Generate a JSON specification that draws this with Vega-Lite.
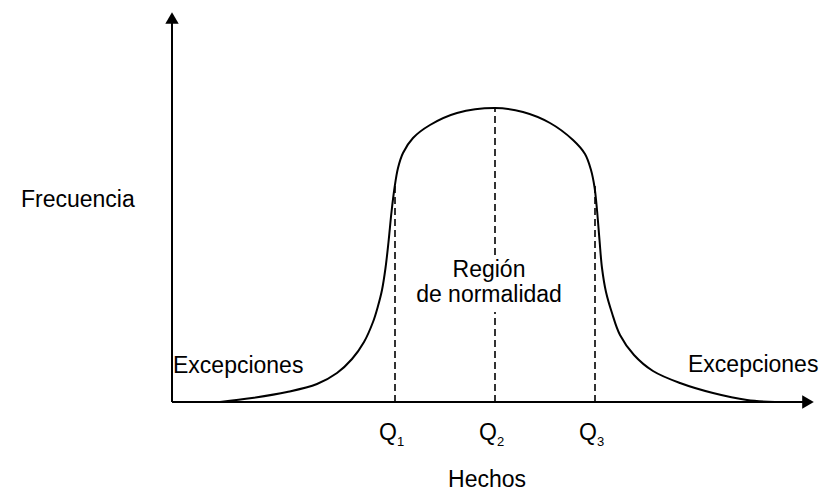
{
  "$schema": "https://vega.github.io/schema/vega-lite/v6.json",
  "width": 825,
  "height": 492,
  "padding": 0,
  "autosize": {"type": "none"},
  "background": "white",
  "config": {"view": {"stroke": null}, "text": {"font": "Liberation Sans", "color": "black"}},
  "datasets": {
    "curve": [
      {"hechos": 48, "frecuencia": 0},
      {"hechos": 80, "frecuencia": 4},
      {"hechos": 115, "frecuencia": 10},
      {"hechos": 145, "frecuencia": 18},
      {"hechos": 165, "frecuencia": 29},
      {"hechos": 180, "frecuencia": 43},
      {"hechos": 192, "frecuencia": 60},
      {"hechos": 201, "frecuencia": 80},
      {"hechos": 206, "frecuencia": 96},
      {"hechos": 210, "frecuencia": 112},
      {"hechos": 213.5, "frecuencia": 134},
      {"hechos": 216.5, "frecuencia": 160},
      {"hechos": 219.5, "frecuencia": 190},
      {"hechos": 222.5, "frecuencia": 214},
      {"hechos": 226, "frecuencia": 234},
      {"hechos": 231, "frecuencia": 249},
      {"hechos": 241, "frecuencia": 264},
      {"hechos": 258, "frecuencia": 277},
      {"hechos": 285, "frecuencia": 289},
      {"hechos": 323, "frecuencia": 294},
      {"hechos": 351, "frecuencia": 290},
      {"hechos": 378, "frecuencia": 279},
      {"hechos": 401, "frecuencia": 262},
      {"hechos": 413, "frecuencia": 248},
      {"hechos": 419, "frecuencia": 232},
      {"hechos": 422.5, "frecuencia": 215},
      {"hechos": 425, "frecuencia": 192},
      {"hechos": 427.5, "frecuencia": 162},
      {"hechos": 430, "frecuencia": 134},
      {"hechos": 434, "frecuencia": 110},
      {"hechos": 440, "frecuencia": 89},
      {"hechos": 448, "frecuencia": 67},
      {"hechos": 462, "frecuencia": 47},
      {"hechos": 481, "frecuencia": 31},
      {"hechos": 508, "frecuencia": 19},
      {"hechos": 541, "frecuencia": 9},
      {"hechos": 575, "frecuencia": 2},
      {"hechos": 603, "frecuencia": 0}
    ],
    "cuartiles": [
      {"q": "Q", "sub": "1", "hechos": 223, "qy": -38, "sy": -44},
      {"q": "Q", "sub": "2", "hechos": 323, "qy": -38, "sy": -44},
      {"q": "Q", "sub": "3", "hechos": 423, "qy": -38, "sy": -44}
    ],
    "guias": [
      {"hechos": 223, "desde": 0, "hasta": 218},
      {"hechos": 323, "desde": 0, "hasta": 90},
      {"hechos": 323, "desde": 147, "hasta": 294},
      {"hechos": 423, "desde": 0, "hasta": 218}
    ],
    "ejes": [
      {"x": 0, "y": 0, "x2": 0, "y2": 380},
      {"x": 0, "y": 0, "x2": 632, "y2": 0}
    ],
    "flechas": [
      {"x": 0, "y": 384, "forma": "up"},
      {"x": 636, "y": 0, "forma": "right"}
    ],
    "izq": [
      {"t": "Frecuencia", "x": -151, "y": 195},
      {"t": "Excepciones", "x": 1, "y": 29},
      {"t": "Excepciones", "x": 516, "y": 30}
    ],
    "centro": [
      {"t": "Región", "x": 317, "y": 125},
      {"t": "de normalidad", "x": 317, "y": 100},
      {"t": "Hechos", "x": 315, "y": -85}
    ]
  },
  "layer": [
    {
      "data": {"name": "ejes"},
      "mark": {"type": "rule", "color": "black", "strokeWidth": 2},
      "encoding": {
        "x": {"field": "x", "type": "quantitative", "scale": {"domain": [-172, 653], "nice": false, "zero": false}, "axis": null},
        "y": {"field": "y", "type": "quantitative", "scale": {"domain": [-90, 402], "nice": false, "zero": false}, "axis": null},
        "x2": {"field": "x2"},
        "y2": {"field": "y2"}
      }
    },
    {
      "data": {"name": "flechas"},
      "transform": [{"filter": "datum.forma == 'up'"}],
      "mark": {"type": "point", "shape": "triangle-up", "filled": true, "color": "black", "size": 180, "opacity": 1},
      "encoding": {
        "x": {"field": "x", "type": "quantitative"},
        "y": {"field": "y", "type": "quantitative"}
      }
    },
    {
      "data": {"name": "flechas"},
      "transform": [{"filter": "datum.forma == 'right'"}],
      "mark": {"type": "point", "shape": "triangle-right", "filled": true, "color": "black", "size": 180, "opacity": 1},
      "encoding": {
        "x": {"field": "x", "type": "quantitative"},
        "y": {"field": "y", "type": "quantitative"}
      }
    },
    {
      "data": {"name": "curve"},
      "mark": {"type": "line", "color": "black", "strokeWidth": 2, "interpolate": "catmull-rom"},
      "encoding": {
        "x": {"field": "hechos", "type": "quantitative"},
        "y": {"field": "frecuencia", "type": "quantitative"}
      }
    },
    {
      "data": {"name": "guias"},
      "mark": {"type": "rule", "color": "black", "strokeWidth": 1.6, "strokeDash": [7, 4]},
      "encoding": {
        "x": {"field": "hechos", "type": "quantitative"},
        "y": {"field": "desde", "type": "quantitative"},
        "y2": {"field": "hasta"}
      }
    },
    {
      "data": {"name": "cuartiles"},
      "mark": {"type": "text", "fontSize": 23, "align": "right", "baseline": "alphabetic", "dx": 2},
      "encoding": {
        "x": {"field": "hechos", "type": "quantitative"},
        "y": {"field": "qy", "type": "quantitative"},
        "text": {"field": "q"}
      }
    },
    {
      "data": {"name": "cuartiles"},
      "mark": {"type": "text", "fontSize": 13, "align": "left", "baseline": "alphabetic", "dx": 2},
      "encoding": {
        "x": {"field": "hechos", "type": "quantitative"},
        "y": {"field": "sy", "type": "quantitative"},
        "text": {"field": "sub"}
      }
    },
    {
      "data": {"name": "izq"},
      "mark": {"type": "text", "fontSize": 23, "align": "left", "baseline": "alphabetic"},
      "encoding": {
        "x": {"field": "x", "type": "quantitative"},
        "y": {"field": "y", "type": "quantitative"},
        "text": {"field": "t"}
      }
    },
    {
      "data": {"name": "centro"},
      "mark": {"type": "text", "fontSize": 23, "align": "center", "baseline": "alphabetic"},
      "encoding": {
        "x": {"field": "x", "type": "quantitative"},
        "y": {"field": "y", "type": "quantitative"},
        "text": {"field": "t"}
      }
    }
  ]
}
